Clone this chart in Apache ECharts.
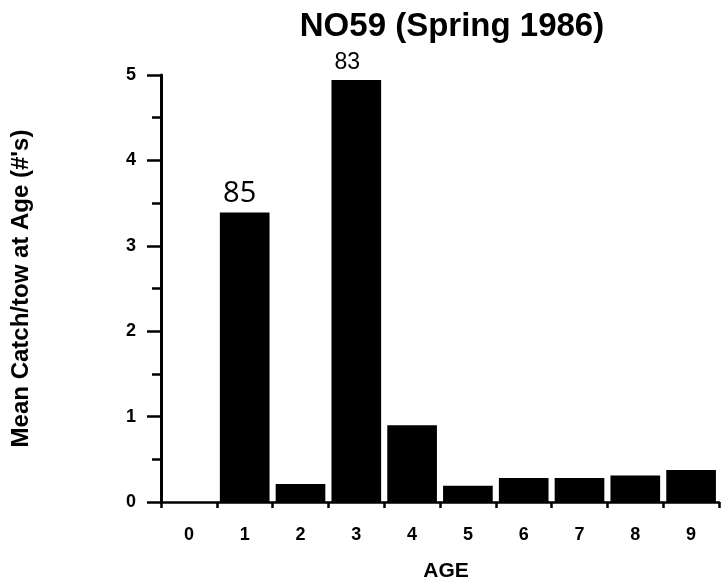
<!DOCTYPE html>
<html><head><meta charset="utf-8">
<script src="https://cdn.jsdelivr.net/npm/echarts@6/dist/echarts.min.js"></script>
<style>html,body{margin:0;padding:0;background:#fff}#c{width:723px;height:587px}</style>
</head><body><div id="c"></div>
<script>
var categories = ['0','1','2','3','4','5','6','7','8','9'];
var values = [0, 3.39, 0.21, 4.94, 0.90, 0.19, 0.28, 0.28, 0.31, 0.375];
var barLabels = ['', '85', '', '83', '', '', '', '', '', ''];
var yTicks = [0,1,2,3,4,5];

var labelStyles = {
  '85': {fontSize: 29, fontFamily: 'Open Sans', offset: [-5, 0], distance: 4},
  '83': {fontSize: 23, fontFamily: 'Liberation Sans', offset: [-9, 0], distance: 6}
};

var chart = echarts.init(document.getElementById('c'));
var data = values.map(function(v,i){
  var item = {value: v};
  var t = barLabels[i];
  if (t) {
    var s = labelStyles[t];
    item.label = {show: true, position: 'top', formatter: t, distance: s.distance, offset: s.offset,
      color: '#000', fontSize: s.fontSize, fontFamily: s.fontFamily, fontWeight: 'normal'};
  }
  return item;
});
chart.setOption({
  animation: false,
  backgroundColor: '#fff',
  title: {text: 'NO59 (Spring 1986)', left: 447, top: 5, textAlign: 'center',
    textStyle: {fontFamily: 'Liberation Sans', fontWeight: 'bold', fontSize: 33, color: '#000'}},
  grid: {left: 161, right: 4, top: 75, bottom: 85},
  xAxis: {
    type: 'category', data: categories, boundaryGap: true,
    name: 'AGE', nameLocation: 'middle', nameGap: 59,
    nameTextStyle: {fontFamily: 'Liberation Sans', fontWeight: 'bold', fontSize: 21, color: '#000', padding: [0,0,0,12]},
    axisLine: {lineStyle: {color: '#000', width: 2.5}},
    axisTick: {show: true, length: 6, lineStyle: {color: '#000', width: 2.5}},
    axisLabel: {fontFamily: 'Liberation Sans', fontWeight: 'bold', fontSize: 18, color: '#000', margin: 24}
  },
  yAxis: {
    type: 'value', min: 0, max: 5, interval: 1,
    name: 'Mean Catch/tow at Age (#\'s)', nameLocation: 'middle', nameGap: 128,
    nameTextStyle: {fontFamily: 'Liberation Sans', fontWeight: 'bold', fontSize: 24, color: '#000'},
    axisLine: {show: true, lineStyle: {color: '#000', width: 3}},
    axisTick: {show: true, length: 14, lineStyle: {color: '#000', width: 2.5}},
    minorTick: {show: true, splitNumber: 2, length: 9, lineStyle: {color: '#000', width: 2.5}},
    splitLine: {show: false},
    axisLabel: {fontFamily: 'Liberation Sans', fontWeight: 'bold', fontSize: 18, color: '#000', margin: 25,
      formatter: function(v){ return yTicks.indexOf(v) >= 0 ? String(v) : ''; }}
  },
  series: [{type: 'bar', data: data, barCategoryGap: '11%', itemStyle: {color: '#000'}}]
});
</script></body></html>
